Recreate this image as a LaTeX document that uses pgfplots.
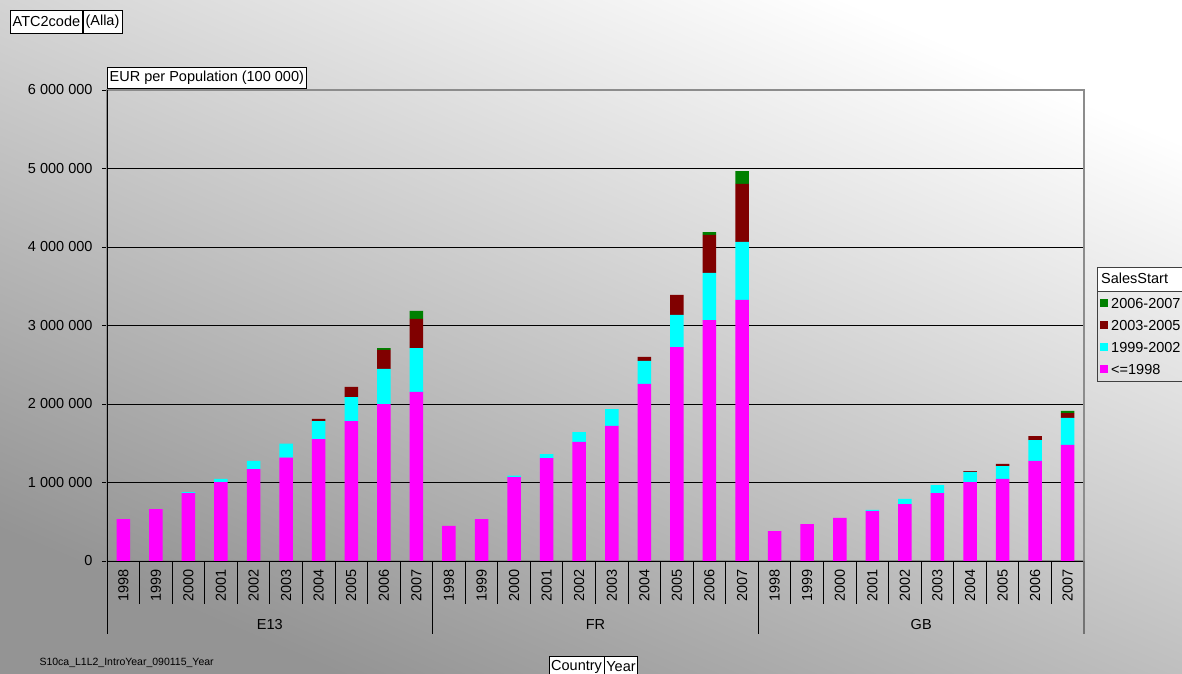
\documentclass[border=0pt]{standalone}
\usepackage{fontspec}
\setmainfont{Liberation Sans}
\usepackage{pgfplots}
\usepackage{pgfplotstable}
\pgfplotsset{compat=1.18}
\definecolor{cMag}{RGB}{255,0,255}
\definecolor{cCyan}{RGB}{0,255,255}
\definecolor{cRed}{RGB}{128,0,0}
\definecolor{cGreen}{RGB}{0,128,0}
\newcommand{\fs}{\fontsize{14.5}{16.5}\selectfont}

% x: category index; a: <=1998; b: 1999-2002; c: 2003-2005; d: 2006-2007
\pgfplotstableread{
x a b c d
0 535000 0 0 0
1 662000 0 0 0
2 866000 13000 0 0
3 1006000 39000 0 0
4 1172000 102000 0 0
5 1316000 179000 0 0
6 1554000 229000 26000 0
7 1783000 306000 128000 0
8 2000000 446000 242000 25000
9 2153000 560000 370000 102000
10 446000 0 0 0
11 535000 0 0 0
12 1070000 17000 0 0
13 1312000 51000 0 0
14 1516000 127000 0 0
15 1720000 216000 0 0
16 2255000 293000 51000 0
17 2726000 408000 255000 0
18 3070000 599000 484000 38000
19 3325000 739000 739000 165000
20 382000 0 0 0
21 471000 0 0 0
22 548000 0 0 0
23 637000 13000 0 0
24 726000 64000 0 0
25 866000 102000 0 0
26 1006000 128000 12000 0
27 1045000 165000 26000 0
28 1274000 267000 51000 0
29 1478000 344000 63000 26000
}\datatable

\begin{document}
\begin{tikzpicture}
\useasboundingbox (0pt,0pt) rectangle (1182pt,673pt);
\clip (0pt,0pt) rectangle (1182pt,673pt);
\shade[top color=white, bottom color=black!42, shading angle=-23] (0pt,0pt) rectangle (1182pt,673pt);
\begin{axis}[
  at={(107pt,112pt)}, anchor=south west,
  scale only axis, width=977pt, height=471pt,
  xmin=-0.5, xmax=29.5, ymin=0, ymax=6000000,
  scaled y ticks=false,
  ybar stacked, bar width=13.5pt,
  axis line style={draw=black!45, line width=1.2pt},
  xtick={0,...,29},
  xticklabels={1998,1999,2000,2001,2002,2003,2004,2005,2006,2007,
               1998,1999,2000,2001,2002,2003,2004,2005,2006,2007,
               1998,1999,2000,2001,2002,2003,2004,2005,2006,2007},
  xtick style={draw=none},
  xticklabel style={rotate=90, anchor=east, font=\fs},
  ytick={0,1000000,2000000,3000000,4000000,5000000,6000000},
  yticklabels={0,1 000 000,2 000 000,3 000 000,4 000 000,5 000 000,6 000 000},
  yticklabel style={anchor=east, font=\fs, xshift=-6pt},
  ytick pos=left,
  ytick style={black, line width=0.8pt},
  major tick length=5pt, tick align=outside,
  ymajorgrids, major grid style={black, line width=0.8pt},
  reverse legend,
  legend style={at={(rel axis cs:1.0133,0.57325)}, anchor=north west,
    draw=black!75, fill=none, font=\fs, inner xsep=3pt, inner ysep=1pt,
    row sep=0pt, nodes={inner xsep=3pt, inner ysep=6pt, text height=10pt, text depth=0pt}},
  legend cell align=left,
  legend image code/.code={\fill[#1] (0pt,-4pt) rectangle (8pt,4pt);},
]
\addplot[fill=cMag, draw=none] table[x=x, y=a]{\datatable};
\addlegendentry{<=1998}
\addplot[fill=cCyan, draw=none] table[x=x, y=b]{\datatable};
\addlegendentry{1999-2002}
\addplot[fill=cRed, draw=none] table[x=x, y=c]{\datatable};
\addlegendentry{2003-2005}
\addplot[fill=cGreen, draw=none] table[x=x, y=d]{\datatable};
\addlegendentry{2006-2007}
\end{axis}
% axis lines left and bottom
\draw[black, line width=1pt] (107pt,583pt) -- (107pt,112pt) -- (1084pt,112pt);
% category separators
\foreach \i in {1,...,9,11,12,...,19,21,22,...,29} {
  \pgfmathsetmacro{\xx}{107+32.56667*\i}
  \draw[black, line width=0.9pt] (\xx pt,112pt) -- ++(0pt,-43pt);
}
\foreach \i in {0,10,20} {
  \pgfmathsetmacro{\xx}{107+32.56667*\i}
  \draw[black, line width=0.9pt] (\xx pt,112pt) -- ++(0pt,-73pt);
}
\draw[black!55, line width=1.2pt] (1084pt,112pt) -- ++(0pt,-73pt);
% country labels
\node[font=\fs] at (269.8pt,48pt) {E13};
\node[font=\fs] at (595.5pt,48pt) {FR};
\node[font=\fs] at (921.2pt,48pt) {GB};
% field buttons
\node[draw=black, fill=white, font=\fs, inner xsep=2.5pt, inner ysep=0pt, minimum height=23pt, anchor=north west] (atc) at (10pt,663pt) {ATC2code};
\node[draw=black, fill=white, font=\fs, inner xsep=2.5pt, inner ysep=0pt, minimum height=23pt, anchor=west] at (atc.east) {(Alla)};
\node[draw=black, fill=white, font=\fs, inner xsep=2.5pt, inner ysep=0pt, minimum height=21pt, anchor=south west] at (107pt,585pt) {EUR per Population (100 000)};
\node[draw=black, fill=white, font=\fs, inner xsep=2pt, inner ysep=0pt, minimum height=21pt, anchor=north west] (ctry) at (549pt,17pt) {Country};
\node[draw=black, fill=white, font=\fs, inner xsep=2pt, inner ysep=0pt, minimum height=21pt, anchor=west] at (ctry.east) {Year};
\node[draw=black!75, fill=white, font=\fs, inner xsep=4pt, inner ysep=0pt, minimum height=24pt, text width=90pt, anchor=south west] at (1097pt,382pt) {SalesStart};
% footnote
\node[font=\fontsize{10.5}{12}\selectfont, anchor=west] at (36pt,10pt) {S10ca\_L1L2\_IntroYear\_090115\_Year};
\end{tikzpicture}
\end{document}
